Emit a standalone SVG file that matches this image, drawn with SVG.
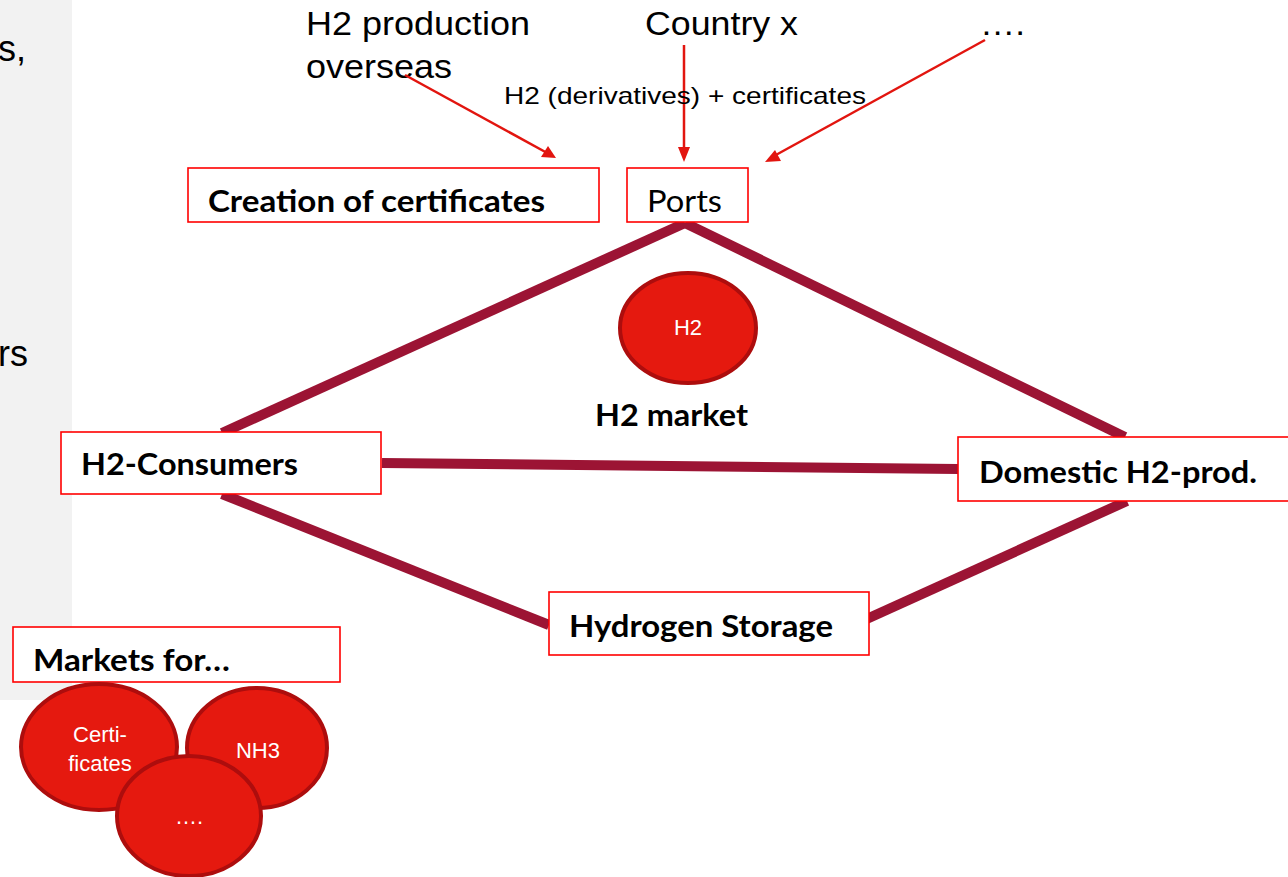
<svg xmlns="http://www.w3.org/2000/svg" width="1288" height="877" viewBox="0 0 1288 877">
  <style>
    .box { fill: #ffffff; stroke: #ff0000; stroke-width: 1.6; }
    .lbl { font-family: Lato, "Open Sans", sans-serif; font-weight: bold; font-size: 30px; fill: #000000; }
    .plain { font-family: "Liberation Sans", Arial, sans-serif; fill: #000000; }
    .link { stroke: #9c1434; stroke-width: 10; fill: none; }
    .flow { stroke: #e2150f; stroke-width: 2.5; fill: none; }
    .bubble { fill: #e5190f; stroke: #ad0d0d; stroke-width: 4; }
    .btxt { font-family: "Liberation Sans", Arial, sans-serif; font-size: 22px; fill: #ffffff; text-anchor: middle; }
  </style>

  <rect width="1288" height="877" fill="#ffffff"/>
  <!-- side panel -->
  <rect x="0" y="0" width="72" height="700" fill="#f2f2f2"/>
  <text class="plain" x="-2" y="61" font-size="36">s,</text>
  <text class="plain" x="-2" y="366" font-size="36">rs</text>

  <!-- sources -->
  <g id="src-overseas">
    <text class="plain" x="306" y="35" font-size="34" textLength="224" lengthAdjust="spacingAndGlyphs">H2 production</text>
    <text class="plain" x="306" y="78" font-size="34" textLength="146" lengthAdjust="spacingAndGlyphs">overseas</text>
  </g>
  <g id="src-country">
    <text class="plain" x="645" y="35" font-size="34" textLength="153" lengthAdjust="spacingAndGlyphs">Country x</text>
  </g>
  <g id="src-more">
    <text class="plain" x="980" y="35" font-size="34" textLength="45" lengthAdjust="spacingAndGlyphs">….</text>
  </g>

  <!-- connectors -->
  <g id="connectors">
    <line class="link" x1="685" y1="223" x2="222" y2="433"/>
    <line class="link" x1="685" y1="223" x2="1125" y2="437"/>
    <line class="link" x1="382" y1="463" x2="958" y2="469"/>
    <line class="link" x1="222" y1="494" x2="549" y2="625"/>
    <line class="link" x1="1127" y1="501" x2="849" y2="627"/>
    <line class="flow" x1="405" y1="75" x2="549" y2="154"/>
    <path d="M556,158 L541,157 L548,146 z" fill="#e2150f"/>
    <line class="flow" x1="684" y1="45" x2="684" y2="150"/>
    <path d="M684,162 L678,147 L690,147 z" fill="#e2150f"/>
    <line class="flow" x1="985" y1="40" x2="774" y2="156"/>
    <path d="M765,162 L775,150 L781,161 z" fill="#e2150f"/>
    <text class="plain" x="504" y="104" font-size="24" textLength="362" lengthAdjust="spacingAndGlyphs">H2 (derivatives) + certificates</text>
  </g>

  <g id="certificates">
    <rect class="box" x="188" y="168" width="411" height="54"/>
    <text class="lbl" x="208" y="212" textLength="337" lengthAdjust="spacingAndGlyphs">Creation of certificates</text>
  </g>
  <g id="ports">
    <rect class="box" x="627" y="168" width="121" height="54"/>
    <text x="647" y="212" font-family="Lato, 'Open Sans', sans-serif" font-size="30" textLength="75" lengthAdjust="spacingAndGlyphs">Ports</text>
  </g>

  <g id="h2-market">
    <ellipse class="bubble" cx="688" cy="328" rx="68" ry="55"/>
    <text class="btxt" x="688" y="335" font-size="20">H2</text>
    <text class="lbl" x="595" y="426" textLength="153" lengthAdjust="spacingAndGlyphs">H2 market</text>
  </g>

  <g id="consumers">
    <rect class="box" x="61" y="432" width="320" height="62"/>
    <text class="lbl" x="81" y="475" textLength="217" lengthAdjust="spacingAndGlyphs">H2-Consumers</text>
  </g>
  <g id="domestic">
    <rect class="box" x="958" y="437" width="332" height="64"/>
    <text class="lbl" x="979" y="483" textLength="278" lengthAdjust="spacingAndGlyphs">Domestic H2-prod.</text>
  </g>
  <g id="storage">
    <rect class="box" x="549" y="592" width="320" height="63"/>
    <text class="lbl" x="569" y="637" textLength="264" lengthAdjust="spacingAndGlyphs">Hydrogen Storage</text>
  </g>

  <g id="markets">
    <rect class="box" x="13" y="627" width="327" height="55"/>
    <text class="lbl" x="33" y="671" textLength="197" lengthAdjust="spacingAndGlyphs">Markets for…</text>
  </g>
  <g id="m-certificates">
    <ellipse class="bubble" cx="99" cy="747" rx="78" ry="63"/>
    <text class="btxt" x="100" y="742">Certi-</text>
    <text class="btxt" x="100" y="771">ficates</text>
  </g>
  <g id="m-nh3">
    <ellipse class="bubble" cx="257" cy="748" rx="70" ry="60"/>
    <text class="btxt" x="258" y="758">NH3</text>
  </g>
  <g id="m-more">
    <ellipse class="bubble" cx="189" cy="816" rx="72" ry="60"/>
    <text class="btxt" x="189" y="824">….</text>
  </g>
</svg>
